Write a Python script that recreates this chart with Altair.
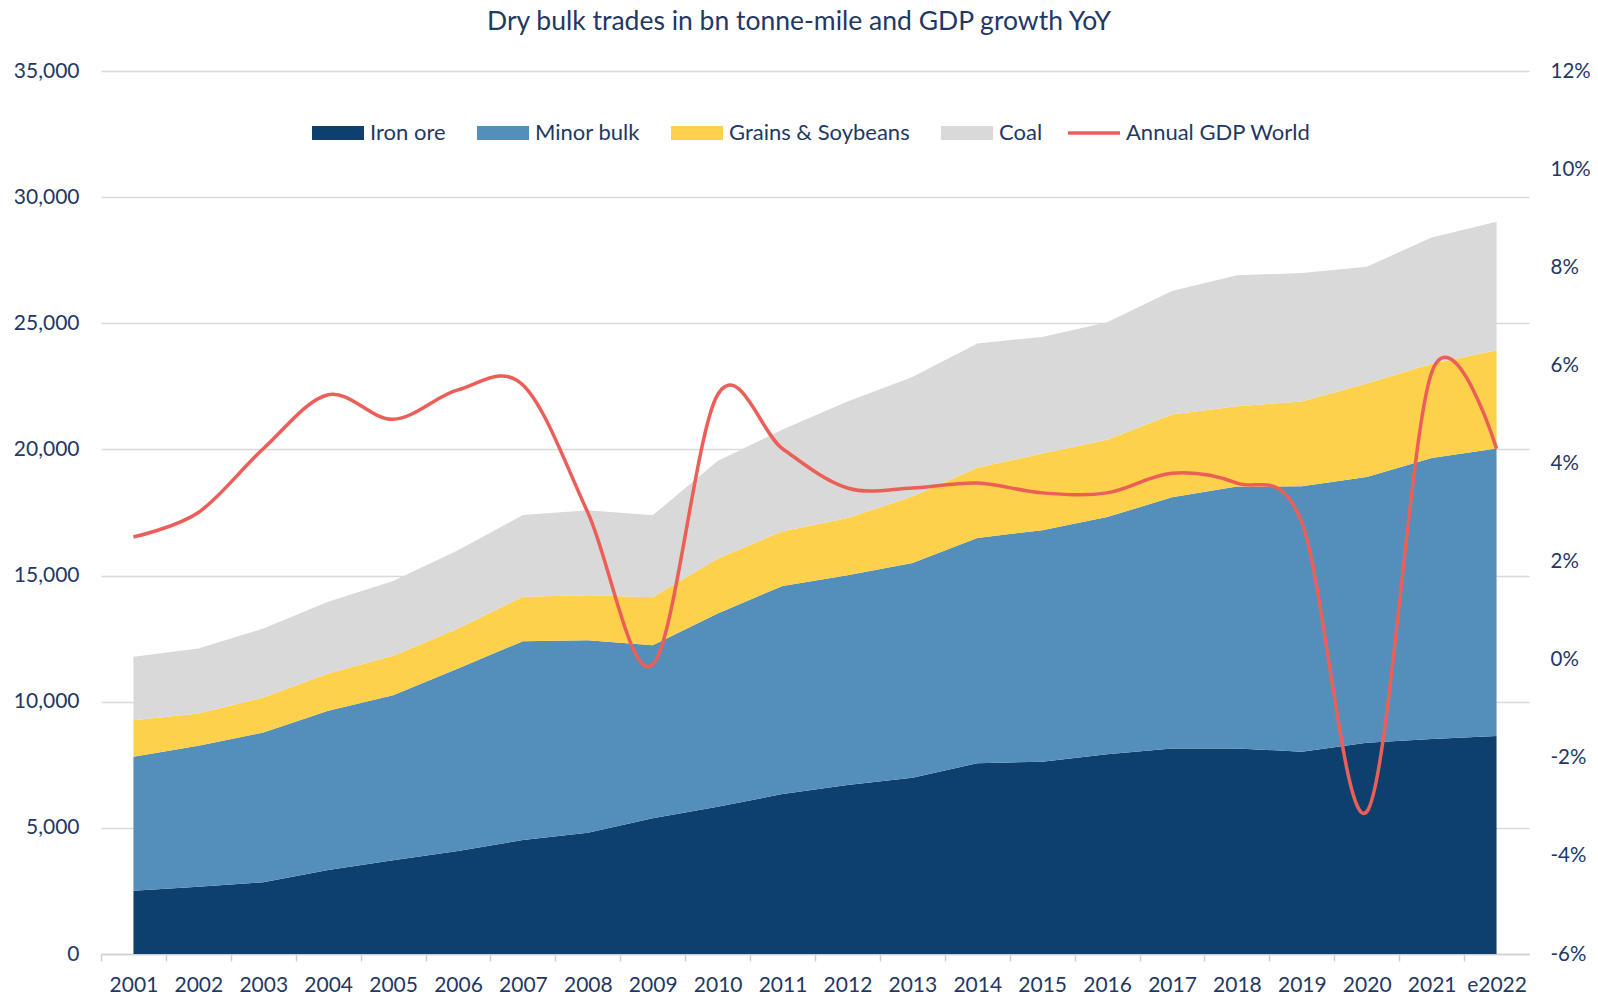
import altair as alt
import pandas as pd

years = ["2001", "2002", "2003", "2004", "2005", "2006", "2007", "2008", "2009", "2010", "2011",
         "2012", "2013", "2014", "2015", "2016", "2017", "2018", "2019", "2020", "2021", "e2022"]
iron_ore = [2510, 2670, 2840, 3330, 3720, 4080, 4520, 4810, 5380, 5840, 6340,
            6700, 6990, 7560, 7620, 7920, 8150, 8150, 8020, 8370, 8520, 8640]
minor_bulk = [5310, 5580, 5940, 6310, 6540, 7240, 7880, 7630, 6860, 7660, 8250,
              8310, 8510, 8930, 9180, 9400, 9950, 10380, 10520, 10540, 11140, 11400]
grains = [1450, 1280, 1390, 1480, 1560, 1580, 1760, 1780, 1900, 2180, 2170,
          2270, 2630, 2780, 3040, 3060, 3280, 3180, 3360, 3700, 3740, 3890]
coal = [2510, 2580, 2730, 2840, 2960, 3100, 3240, 3370, 3250, 3860, 4030,
        4620, 4740, 4930, 4620, 4660, 4900, 5190, 5090, 4630, 5000, 5090]
gdp = [2.5, 3.0, 4.3, 5.4, 4.9, 5.5, 5.6, 3.0, -0.1, 5.4, 4.3,
       3.5, 3.5, 3.6, 3.4, 3.4, 3.8, 3.6, 2.8, -3.1, 5.85, 4.3]

series_names = ["Iron ore", "Minor bulk", "Grains & Soybeans", "Coal"]
series_colors = ["#0e406e", "#548fbb", "#fdd14b", "#d9d9d9"]
gdp_name = "Annual GDP World"
gdp_color = "#ec5f58"
title_text = "Dry bulk trades in bn tonne-mile and GDP growth YoY"
left_ticks = [0, 5000, 10000, 15000, 20000, 25000, 30000, 35000]
right_ticks = [-6, -4, -2, 0, 2, 4, 6, 8, 10, 12]

navy = "#1f3864"
FONT = "Lato"

rows = []
for i, yr in enumerate(years):
    for k, (name, vals) in enumerate(zip(series_names, [iron_ore, minor_bulk, grains, coal])):
        rows.append({"year": yr, "series": name, "ord": k, "value": vals[i]})
area_df = pd.DataFrame(rows)
gdp_df = pd.DataFrame({"year": years, "gdp": gdp, "name": gdp_name})

W, H = 1428, 883
step = W / len(years)

x_enc = alt.X(
    "year:N", sort=years,
    scale=alt.Scale(type="point", padding=0.5),
    axis=alt.Axis(title=None, labelAngle=0, tickOffset=-step / 2, labelOffset=step / 2,
                  ticks=True, tickSize=7, tickColor="#d0d0d0", tickWidth=1.5,
                  domainColor="#d0d0d0", domainWidth=1.5, labelPadding=13,
                  labelFontSize=21, labelOverlap=False, labelAlign="center"),
)

areas = alt.Chart(area_df).mark_area(opacity=1).encode(
    x=x_enc,
    y=alt.Y("value:Q", stack=True,
            scale=alt.Scale(domain=[0, 35000], nice=False),
            axis=alt.Axis(title=None, values=left_ticks, format=",.0f", ticks=False, domain=False,
                          labelPadding=22, gridColor="#d9d9d9", gridWidth=1.5,
                          labelFontSize=21)),
    color=alt.Color("series:N",
                    scale=alt.Scale(domain=series_names, range=series_colors),
                    legend=alt.Legend(title=None, orient="none", legendX=211, legendY=36,
                                      direction="horizontal",
                                      symbolType="M-1,-0.27H1V0.27H-1Z", symbolSize=2704,
                                      symbolStrokeWidth=0, symbolOpacity=1,
                                      labelFontSize=22, labelOffset=6, columnPadding=31,
                                      labelLimit=400)),
    order=alt.Order("ord:Q", sort="ascending"),
)

line = alt.Chart(gdp_df).mark_line(interpolate="cardinal", tension=0, strokeWidth=3.5).encode(
    x=alt.X("year:N", sort=years, scale=alt.Scale(type="point", padding=0.5)),
    y=alt.Y("gdp:Q", scale=alt.Scale(domain=[-6, 12], nice=False),
            axis=alt.Axis(title=None, orient="right", values=right_ticks,
                          labelExpr="datum.value + '%'", grid=False, ticks=False,
                          domain=False, labelPadding=21, labelFontSize=20.5)),
    stroke=alt.Stroke("name:N", scale=alt.Scale(domain=[gdp_name], range=[gdp_color]),
                      legend=alt.Legend(title=None, orient="none", legendX=965, legendY=34,
                                        direction="horizontal", symbolType="stroke",
                                        symbolSize=2704, symbolStrokeWidth=3.5,
                                        labelFontSize=22, labelOffset=4, labelLimit=400)),
)

chart = alt.layer(areas, line).resolve_scale(y="independent").properties(
    width=W, height=H,
    padding={"left": 93, "top": 63, "right": 61, "bottom": 40},
    autosize=alt.AutoSizeParams(type="none"),
    title=alt.TitleParams(title_text, fontSize=26.5, font=FONT, fontWeight="normal",
                          color=navy, anchor="middle", frame="group", dx=-16, offset=25),
    background="#ffffff",
).configure_axis(
    labelFont=FONT, labelColor=navy,
).configure_legend(
    labelFont=FONT, labelColor=navy,
).configure_view(stroke=None)

chart.save("out.html", embed_options={"renderer": "svg", "actions": False})
